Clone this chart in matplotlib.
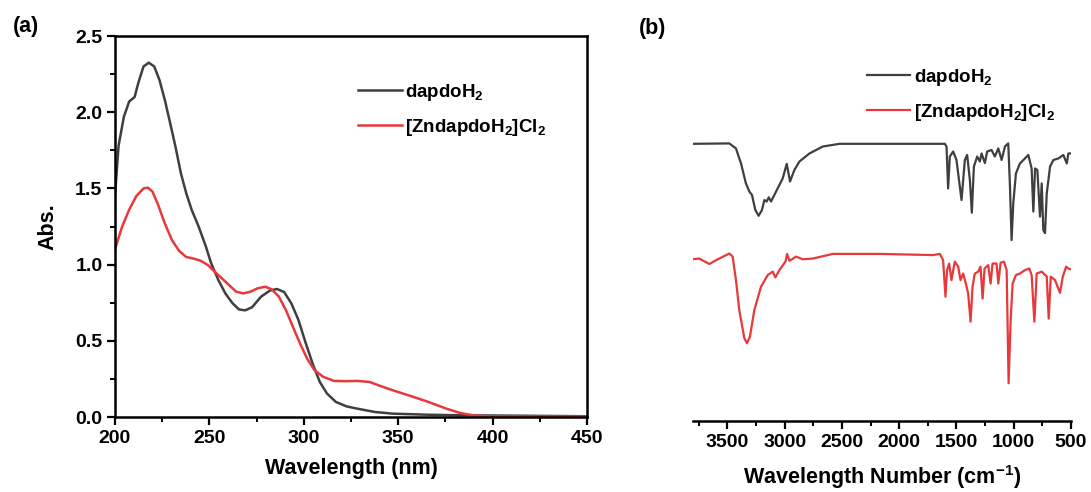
import matplotlib
matplotlib.use("Agg")
import matplotlib.pyplot as plt
from matplotlib.ticker import MultipleLocator

plt.rcParams["font.family"] = "Liberation Sans"
plt.rcParams["font.weight"] = "bold"
plt.rcParams["mathtext.fontset"] = "custom"
plt.rcParams["mathtext.rm"] = "Liberation Sans:bold"
plt.rcParams["mathtext.bf"] = "Liberation Sans:bold"
plt.rcParams["mathtext.it"] = "Liberation Sans:bold"

# (a) UV-Vis
uv_wl_ligand = [200, 201.9, 204.7, 207.5, 210.4, 212.3, 215.1, 217.9, 220.8, 223.6, 226.4,
                229.2, 232.1, 234.9, 237.7, 240.6, 244.3, 248.1, 250.9, 254.7, 258.5, 262.3,
                265.7, 268.9, 272.6, 277.4, 282.1, 285.8, 289.6, 293.4, 297.2, 300.9, 304.7,
                308.5, 312.3, 317.0, 322.6, 328.3, 337.7, 347.2, 366, 385, 400, 450]
uv_abs_ligand = [1.45, 1.78, 1.97, 2.07, 2.10, 2.19, 2.30, 2.325, 2.30, 2.21, 2.08,
                 1.93, 1.77, 1.60, 1.47, 1.36, 1.25, 1.12, 1.01, 0.90, 0.81, 0.746,
                 0.706, 0.70, 0.72, 0.79, 0.83, 0.84, 0.82, 0.746, 0.636, 0.49, 0.35,
                 0.23, 0.154, 0.099, 0.07, 0.055, 0.033, 0.022, 0.015, 0.011, 0.01, 0.005]

uv_wl_complex = [200, 203.8, 207.5, 211.3, 215.1, 217.4, 219.8, 222.6, 226.4, 230.2, 234,
                 237.7, 241.5, 245.3, 249.1, 252.8, 256.6, 260.4, 264.2, 267.9, 271.7,
                 275.5, 279.6, 283, 286.8, 290.6, 294.3, 298.1, 301.9, 305.7, 310.4, 316,
                 322.6, 328.3, 334.9, 339.6, 347.2, 356.6, 366, 375.5, 383, 390.6, 400, 450]
uv_abs_complex = [1.10, 1.25, 1.36, 1.45, 1.50, 1.505, 1.48, 1.40, 1.27, 1.16, 1.09,
                  1.05, 1.04, 1.026, 0.998, 0.954, 0.91, 0.866, 0.822, 0.811, 0.822,
                  0.844, 0.855, 0.838, 0.79, 0.70, 0.59, 0.48, 0.38, 0.307, 0.263, 0.237,
                  0.235, 0.237, 0.23, 0.208, 0.175, 0.138, 0.099, 0.055, 0.026, 0.009, 0.004, 0.003]

# (b) FT-IR (offset transmittance, arbitrary units)
ir_wn_ligand = [3804, 3483, 3425, 3381, 3338, 3308, 3285, 3256, 3227, 3198, 3177, 3157, 3139,
                3119, 3075, 3017, 2982, 2953, 2915, 2871, 2783, 2667, 2521, 1996, 1602, 1587,
                1573, 1558, 1529, 1500, 1456, 1427, 1407, 1383, 1366, 1348, 1319, 1296, 1281,
                1252, 1232, 1194, 1165, 1135, 1106, 1077, 1048, 1033, 1019, 1004, 981, 946,
                902, 873, 844, 829, 814, 794, 771, 756, 742, 727, 712, 683, 654, 610, 567,
                537, 523, 508]
ir_t_ligand = [72.0, 72.1, 70.8, 66.9, 61.7, 59.6, 58.7, 54.8, 53.3, 54.8, 57.4, 57.0, 58.1,
               57.0, 59.6, 63.0, 66.8, 62.2, 65.2, 67.4, 69.5, 71.3, 72.0, 72.0, 72.0, 71.3,
               60.4, 68.7, 70.0, 67.8, 57.4, 67.8, 69.1, 62.6, 54.1, 66.1, 68.7, 67.4, 69.5,
               67.0, 70.0, 70.4, 68.7, 70.8, 67.8, 71.3, 72.1, 60.9, 47.0, 56.6, 64.3, 66.9,
               68.2, 69.1, 65.6, 54.4, 65.6, 65.2, 53.1, 61.7, 49.6, 48.8, 59.1, 66.1, 67.8,
               68.2, 69.1, 66.9, 69.5, 69.5]

ir_wn_complex = [3804, 3746, 3658, 3571, 3483, 3454, 3425, 3396, 3352, 3329, 3303, 3265, 3206,
                 3148, 3104, 3081, 3046, 2993, 2979, 2958, 2900, 2842, 2754, 2667, 2579, 2171,
                 1704, 1646, 1617, 1596, 1582, 1564, 1544, 1515, 1485, 1465, 1442, 1418, 1398,
                 1377, 1360, 1340, 1310, 1290, 1272, 1255, 1223, 1202, 1185, 1150, 1135, 1115,
                 1086, 1062, 1045, 1027, 1010, 981, 946, 902, 864, 844, 820, 800, 756, 712,
                 695, 677, 640, 596, 572, 543, 523, 502]
ir_t_complex = [42.0, 42.2, 40.8, 42.2, 43.5, 42.7, 36.6, 28.8, 21.5, 20.2, 21.9, 28.8, 34.9,
                37.9, 38.8, 37.3, 39.2, 41.4, 43.4, 41.6, 42.7, 42.0, 42.2, 42.8, 43.4, 43.4,
                43.1, 43.4, 41.8, 32.3, 39.2, 40.9, 36.6, 41.4, 40.1, 36.6, 38.3, 35.7, 33.1,
                25.8, 34.9, 38.3, 38.8, 40.1, 31.8, 39.6, 40.5, 35.7, 40.9, 40.9, 35.7, 41.1,
                41.4, 39.2, 9.8, 26.2, 35.7, 37.9, 38.3, 39.2, 39.6, 37.9, 25.8, 38.3, 38.8,
                37.5, 26.6, 37.5, 36.6, 33.3, 37.5, 40.1, 39.6, 39.4]

labels = ["dapdoH$_2$", "[ZndapdoH$_2$]Cl$_2$"]
black = "#3f3f3f"
red = "#e8383a"

fig = plt.figure(figsize=(10.91, 4.92), dpi=100)
ax1 = fig.add_axes([0.1054, 0.1524, 0.4326, 0.7744])
ax2 = fig.add_axes([0.6352, 0.1443, 0.3465, 0.7825])

# panel (a)
ax1.plot(uv_wl_ligand, uv_abs_ligand, color=black, lw=1.8, label=labels[0])
ax1.plot(uv_wl_complex, uv_abs_complex, color=red, lw=1.8, label=labels[1])
ax1.set_xlim(200, 450)
ax1.set_ylim(0, 2.5)
ax1.xaxis.set_major_locator(MultipleLocator(50))
ax1.xaxis.set_minor_locator(MultipleLocator(25))
ax1.yaxis.set_major_locator(MultipleLocator(0.5))
ax1.yaxis.set_minor_locator(MultipleLocator(0.25))
ax1.yaxis.set_major_formatter(plt.FormatStrFormatter("%.1f"))
ax1.tick_params(which="major", length=6, width=1.6, labelsize=14, direction="out", pad=3)
ax1.tick_params(which="minor", length=3.5, width=1.4, direction="out")
for s in ax1.spines.values():
    s.set_linewidth(1.8)
ax1.set_xlabel("Wavelength (nm)", fontsize=15.5, fontweight="bold", labelpad=8)
ax1.set_ylabel("Abs.", fontsize=15.5, fontweight="bold", labelpad=12)
ax1.legend(loc="upper left", bbox_to_anchor=(0.5, 0.9), frameon=False, fontsize=13.5,
           handlelength=2.3, handletextpad=0.2, labelspacing=0.75, borderaxespad=0)

# panel (b)
ax2.plot(ir_wn_ligand, ir_t_ligand, color=black, lw=1.6, label=labels[0])
ax2.plot(ir_wn_complex, ir_t_complex, color=red, lw=1.6, label=labels[1])
ax2.set_xlim(3800, 500)
ax2.set_ylim(0, 100)
ax2.xaxis.set_major_locator(MultipleLocator(500))
ax2.xaxis.set_minor_locator(MultipleLocator(250))
ax2.tick_params(which="major", length=6, width=1.6, labelsize=14, direction="out", pad=3)
ax2.tick_params(which="minor", length=3.5, width=1.4, direction="out")
ax2.set_yticks([])
for k in ["left", "right", "top"]:
    ax2.spines[k].set_visible(False)
ax2.spines["bottom"].set_linewidth(1.8)
ax2.set_xlabel("Wavelength Number (cm$^{-1}$)", fontsize=15.5, fontweight="bold", labelpad=9)
ax2.legend(loc="upper left", bbox_to_anchor=(0.44, 0.94), frameon=False, fontsize=13.5,
           handlelength=2.3, handletextpad=0.2, labelspacing=0.75, borderaxespad=0)

fig.text(0.024, 0.947, "(a)", fontsize=15.5, fontweight="bold", ha="center", va="center")
fig.text(0.598, 0.943, "(b)", fontsize=15.5, fontweight="bold", ha="center", va="center")

fig.savefig("out.png", dpi=100)
